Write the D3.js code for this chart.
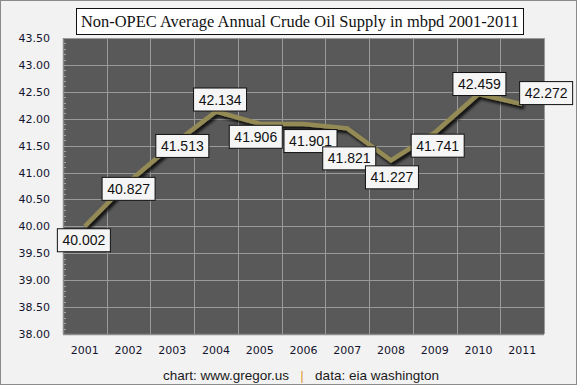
<!DOCTYPE html>
<html>
<head>
<meta charset="utf-8">
<script src="https://cdn.jsdelivr.net/npm/d3@7"></script>
<style>
  body { margin: 0; background: #fff; }
  .tick text { font-family: "DejaVu Sans", sans-serif; font-size: 11px; fill: #14142e; }
  .label { font-family: "Liberation Sans", sans-serif; font-size: 14px; fill: #111; }
</style>
</head>
<body>
<svg id="chart" width="579" height="387"></svg>
<script>
const years = ["2001", "2002", "2003", "2004", "2005", "2006", "2007", "2008", "2009", "2010", "2011"];
const supply = [40.002, 40.827, 41.513, 42.134, 41.906, 41.901, 41.821, 41.227, 41.741, 42.459, 42.272];
const yTicks = d3.range(38, 43.51, 0.5);
// label box centre offsets from each point (dx, dy)
const labelDx = [-1, 0, 10, 4, -4, 7, 2, 1, 3, 1, 24];
const labelDy = [14, 7, 1, -12, 13, 17, 30, 17, 13, -10, -11];

const plotL = 63, plotR = 544, plotT = 38, plotB = 334;

const svg = d3.select("#chart");

const defs = svg.append("defs");
const f = defs.append("filter").attr("id", "shadow")
    .attr("x", "-10%").attr("y", "-10%").attr("width", "130%").attr("height", "140%");
f.append("feDropShadow")
    .attr("dx", 2).attr("dy", 3).attr("stdDeviation", 1.5)
    .attr("flood-color", "#000").attr("flood-opacity", 0.85);

svg.append("rect")
    .attr("x", 0.5).attr("y", 0.5).attr("width", 576).attr("height", 384)
    .attr("fill", "#f2f2f2").attr("stroke", "#8a8a8a");

const x = d3.scaleBand().domain(years).range([plotL, plotR]);
const y = d3.scaleLinear().domain([38, 43.5]).range([plotB, plotT]);

svg.append("rect")
    .attr("x", plotL).attr("y", plotT)
    .attr("width", plotR - plotL).attr("height", plotB - plotT)
    .attr("fill", "#595959");

// horizontal gridlines
svg.append("g").selectAll("line")
    .data(yTicks.slice(1))
    .join("line")
    .attr("x1", plotL).attr("x2", plotR)
    .attr("y1", d => Math.round(y(d)) + 0.5).attr("y2", d => Math.round(y(d)) + 0.5)
    .attr("stroke", "#9a9a9a").attr("stroke-width", 1);

// vertical gridlines
svg.append("g").selectAll("line")
    .data(years)
    .join("line")
    .attr("x1", d => Math.round(x(d) + x.bandwidth()) + 0.5)
    .attr("x2", d => Math.round(x(d) + x.bandwidth()) + 0.5)
    .attr("y1", plotT).attr("y2", plotB)
    .attr("stroke", "#9a9a9a").attr("stroke-width", 1);

// minor ticks inside left edge
svg.append("g").selectAll("line")
    .data(d3.range(38, 43.5, 0.1))
    .join("line")
    .attr("x1", plotL).attr("x2", plotL + 3)
    .attr("y1", d => Math.round(y(d)) + 0.5).attr("y2", d => Math.round(y(d)) + 0.5)
    .attr("stroke", "#a8a8a8");

// axis lines
svg.append("line")
    .attr("x1", plotL + 0.5).attr("x2", plotL + 0.5).attr("y1", plotT).attr("y2", plotB)
    .attr("stroke", "#8c8c8c").attr("stroke-width", 1.5);
svg.append("line")
    .attr("x1", plotL).attr("x2", plotR).attr("y1", plotB + 0.5).attr("y2", plotB + 0.5)
    .attr("stroke", "#8c8c8c").attr("stroke-width", 1.5);

const yAxis = d3.axisLeft(y).tickValues(yTicks).tickFormat(d3.format(".2f")).tickSize(0).tickPadding(13);
svg.append("g")
    .attr("transform", `translate(${plotL}, 0)`)
    .call(yAxis)
    .call(g => g.select(".domain").remove());

const xAxis = d3.axisBottom(x).tickSize(0).tickPadding(12);
svg.append("g")
    .attr("transform", `translate(0, ${plotB})`)
    .call(xAxis)
    .call(g => g.select(".domain").remove());

// line
const line = d3.line()
    .x((d, i) => x(years[i]) + x.bandwidth() / 2)
    .y(d => y(d));

svg.append("path")
    .datum(supply)
    .attr("d", line)
    .attr("fill", "none")
    .attr("stroke", "#948a54")
    .attr("stroke-width", 4.5)
    .attr("stroke-linejoin", "miter")
    .attr("filter", "url(#shadow)");

// data labels
const labels = svg.append("g").selectAll("g")
    .data(supply)
    .join("g")
    .attr("transform", (d, i) => `translate(${x(years[i]) + x.bandwidth() / 2 + labelDx[i]}, ${y(d) + labelDy[i]})`);

labels.append("rect")
    .attr("x", -26.5).attr("y", -11.5)
    .attr("width", 53).attr("height", 23)
    .attr("fill", "#f5f5f5").attr("stroke", "#111").attr("stroke-width", 1);

labels.append("text")
    .attr("class", "label")
    .attr("text-anchor", "middle")
    .attr("dy", 5)
    .text(d => d3.format(".3f")(d));

// title
svg.append("rect")
    .attr("x", 76.5).attr("y", 8.5).attr("width", 447).attr("height", 26)
    .attr("fill", "#fff").attr("stroke", "#111").attr("stroke-width", 1);
svg.append("text")
    .attr("x", 300).attr("y", 27)
    .attr("text-anchor", "middle")
    .attr("textLength", 438).attr("lengthAdjust", "spacingAndGlyphs")
    .style("font-family", "Liberation Serif, serif")
    .style("font-size", "17px")
    .attr("fill", "#111")
    .text("Non-OPEC Average Annual Crude Oil Supply in mbpd 2001-2011");

// footer
const foot = svg.append("text")
    .attr("x", 301).attr("y", 380)
    .attr("text-anchor", "middle")
    .style("font-family", "Liberation Sans, sans-serif")
    .style("font-size", "13.5px")
    .attr("fill", "#1a1a1a")
    .attr("xml:space", "preserve");
foot.append("tspan").text("chart: www.gregor.us   ");
foot.append("tspan").attr("fill", "#e0a030").text("|");
foot.append("tspan").text("   data: eia washington");
</script>
</body>
</html>
